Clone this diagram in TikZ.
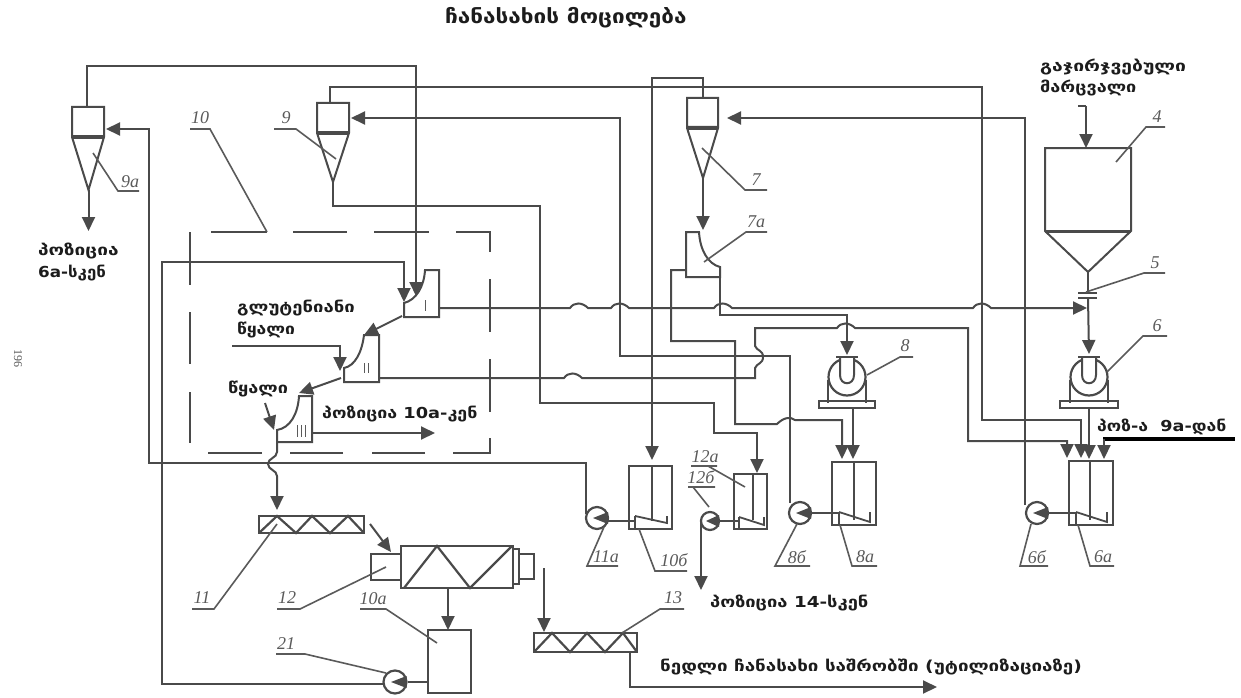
\documentclass[tikz,border=0pt]{standalone}
\usepackage{graphicx}
\usepackage{fontspec}
\setmainfont{DejaVu Sans}
\newfontfamily\labfont{Liberation Serif}
\usetikzlibrary{arrows.meta}
\definecolor{ln}{HTML}{4A4A4A}
\definecolor{lb}{HTML}{5A5A5A}
\definecolor{tx}{HTML}{1C1C1C}
\tikzset{
  pipe/.style={draw=ln,line width=2pt,line join=miter},
  arr/.style={pipe,-{Triangle[length=14pt,width=13pt]}},
  lead/.style={draw=lb,line width=1.6pt},
  lab/.style={text=lb,font=\labfont\itshape\fontsize{18}{18}\selectfont,inner sep=0pt},
  geo/.style={text=tx,font=\bfseries\fontsize{14}{14}\selectfont,inner sep=0pt,anchor=west},
  dash box/.style={draw=ln,line width=2pt},
  pumpc/.style={circle,draw=ln,line width=2.2pt,fill=white,inner sep=0pt,minimum size=#1},
  zig/.style={draw=ln,line width=2.2pt},
  tickmark/.style={draw=lb,line width=1pt}
}
\newcommand\gt[2]{\scalebox{#1}[1.08]{#2}}
\newcommand\hb[2]{-- ({#1-9},#2) .. controls ({#1-5},{#2-6}) and ({#1+3},{#2-6}) .. ({#1+9},#2)}
\newcommand\ppump[4]{% name, x, y, diameter
  \node[pumpc=#4pt] (#1) at (#2,#3) {};
  \fill[ln] ({#2-4},#3) -- ({#2+#4/2},{#3-6}) -- ({#2+#4/2},{#3+6}) -- cycle;}
\newcommand\gpump[3]{% name, x, base half-width
  \draw[pipe] ({#2-19},380) -- ({#2-19},403) ({#2+19},380) -- ({#2+19},403);
  \node[pumpc=37pt] (#1) at (#2,377) {};
  \draw[pipe,fill=white] ({#2-7},357) -- ({#2-7},375) .. controls ({#2-7},386) and ({#2+7},386) .. ({#2+7},375) -- ({#2+7},357);
  \draw[pipe,line width=2.4pt] ({#2-11},357) -- ({#2+11},357);
  \draw[pipe] ({#2-#3},401) rectangle ({#2+#3},408);}
\newcommand\flap[5]{% xl, xr, ytop, ybot (flap ends), ybox bottom
  \draw[pipe,line width=1.8pt] (#1,#3) -- (#2,#4) -- (#2,#3) (#1,#3) -- (#1,#5);}
\begin{document}
\begin{tikzpicture}[x=1pt,y=-1pt]
\useasboundingbox (0,0) rectangle (1241,698);
\fill[white] (0,0) rectangle (1241,698);

% named connector end points
\coordinate (t9a) at (106,129);
\coordinate (t9) at (351,118);
\coordinate (t7) at (727,118);
\coordinate (tI1) at (404,302);
\coordinate (tI2) at (416,296);
\coordinate (tII) at (340,371);
\coordinate (tIII) at (274,430);
\coordinate (t11) at (277,510);
\coordinate (t6p) at (1089,354);
\coordinate (t8p) at (847,355);

% cyclones
\draw[pipe] (72,107) rectangle (104,136) (72,137) -- (88.5,190) -- (104,137);
\draw[pipe,line width=3pt] (72,137) -- (104,137);
\draw[pipe] (317,103) rectangle (349,132) (317,133) -- (333,182) -- (349,133);
\draw[pipe,line width=3pt] (317,133) -- (349,133);
\draw[pipe] (687,98) rectangle (718,127) (687,128) -- (703,178) -- (718,128);
\draw[pipe,line width=3pt] (687,128) -- (718,128);

% hopper
\draw[pipe] (1045,231) -- (1045,148) -- (1131,148) -- (1131,231) -- (1088,272) -- cycle;
\draw[pipe,line width=3pt] (1045,231) -- (1131,231);
\draw[pipe] (1078,106) -- (1086,106);
\draw[arr] (1086,106) -- (1086,148);
\draw[pipe] (1088,272) -- (1088,293);
\draw[arr] (1088,298) -- (t6p);
\draw[pipe] (1078,293) -- (1097,293) (1078,298) -- (1097,298);

% dashed frame 10
\draw[dash box] (211,232) -- (267,232) (293,232) -- (347,232) (374,232) -- (429,232)
  (456,232) -- (490,232) -- (490,252) (490,279) -- (490,332) (490,359) -- (490,412)
  (490,438) -- (490,453) -- (453,453) (425,453) -- (372,453) (343,453) -- (290,453) (262,453) -- (208,453)
  (190,232) -- (190,285) (190,312) -- (190,364) (190,392) -- (190,443);

% pipes
\draw[arr] (88.5,190) -- (88.5,231);
\draw[arr] (87,107) -- (87,66) -- (416,66) -- (tI2);
\draw[arr] (384,684) -- (162,684) -- (162,262) -- (404,262) -- (tI1);
\draw[arr] (586,514) -- (586,463) -- (149,463) -- (149,129) -- (t9a);
\draw[arr] (330,103) -- (330,87) -- (982,87) -- (982,420) -- (1081,420) -- (1081,458);
\draw[arr] (333,182) -- (333,206) -- (540,206) -- (540,403) -- (714,403) -- (714,433) -- (757,433) -- (757,473);
\draw[arr] (790,503) -- (790,356) -- (620,356) -- (620,118) -- (t9);
\draw[arr] (439,308) \hb{579}{308} \hb{620}{308} \hb{723}{308} \hb{982}{308} -- (1087,308);
\draw[arr] (379,378) \hb{573}{378} -- (755,378) -- (755,368) .. controls (757,363) and (763,364) .. (763,357)
  .. controls (763,350) and (757,351) .. (755,346) -- (755,328) \hb{846}{328} -- (968,328) -- (968,441) -- (1067,441) -- (1067,458);
\draw[arr] (703,98) -- (703,78) -- (652,78) -- (652,460);
\draw[arr] (1025,505) -- (1025,118) -- (t7);
\draw[arr] (703,178) -- (703,230);
\draw[arr] (686,270) -- (671,270) -- (671,341) -- (735,341) -- (735,424) -- (777,424)
  .. controls (783,418) and (790,416) .. (795,420) -- (842,420) -- (842,459);
\draw[arr] (720,277) -- (720,315) -- (847,315) -- (t8p);
\draw[arr] (853,408) -- (853,459);
\draw[arr] (1089,408) -- (1089,459);
\draw[arr] (232,346) -- (340,346) -- (tII);
\draw[arr] (265,403) -- (tIII);
\draw[arr] (402,316) -- (364,335);
\draw[arr] (341,378) -- (299,393);
\draw[arr] (312,433) -- (435,433);
\draw[arr] (277,442) -- (277,452) .. controls (277,458) and (268,458) .. (268,464)
  .. controls (268,470) and (277,470) .. (277,476) -- (t11);
\draw[arr] (370,524) -- (391,552);
\draw[arr] (448,588) -- (448,630);
\draw[arr] (544,568) -- (544,632);
\draw[arr] (630,652) -- (630,687) -- (937,687);
\draw[arr] (701,521) -- (701,590);
\draw[draw=black,line width=4pt] (1103,439) -- (1235,439);
\draw[arr] (1104,439) -- (1104,459);

% chambers
\draw[pipe,fill=white] (425,270) -- (439,270) -- (439,317) -- (404,317) -- (404,303) .. controls (416,300) and (424,287) .. (425,270) -- cycle;
\draw[pipe,fill=white] (364,335) -- (379,335) -- (379,382) -- (344,382) -- (344,368) .. controls (355,366) and (362,352) .. (364,335) -- cycle;
\draw[pipe,fill=white] (299,396) -- (312,396) -- (312,442) -- (277,442) -- (277,430) .. controls (290,428) and (298,414) .. (299,396) -- cycle;
\draw[tickmark] (425,300) -- (425,311);
\draw[tickmark] (364,363) -- (364,373) (368,363) -- (368,373);
\draw[tickmark] (297,425) -- (297,437) (301,425) -- (301,437) (305,425) -- (305,437);
\draw[pipe,fill=white] (686,232) -- (699,232) .. controls (700,250) and (708,264) .. (720,267) -- (720,277) -- (686,277) -- cycle;
\draw[pipe] (720,277) -- (720,300);

% gear pumps
\gpump{p6}{1089}{29}
\gpump{p8}{847}{28}

% tanks
\draw[pipe] (1069,461) rectangle (1113,525) (1090,461) -- (1090,520);
\flap{1076}{1107}{512}{522}{525}
\draw[pipe] (832,462) rectangle (876,525) (854,462) -- (854,520);
\flap{839}{870}{512}{522}{525}
\draw[pipe] (629,466) rectangle (672,529) (652,466) -- (652,521);
\flap{635}{667}{516}{523}{529}
\draw[pipe] (734,474) rectangle (767,529) (753,474) -- (753,520);
\flap{739}{764}{517}{525}{529}

% centrifugal pumps
\ppump{p11a}{597}{518}{22}
\ppump{p6b}{1037}{513}{22}
\ppump{p8b}{800}{513}{22}
\ppump{p12b}{710}{521}{18}
\ppump{p21}{395}{682}{23}
\draw[pipe] (p11a) ++(11,3) -- (635,521);
\draw[pipe] (p6b.east) -- (1076,513);
\draw[pipe] (p8b.east) -- (839,513);
\draw[pipe] (p12b.east) -- (739,521);
\draw[pipe] (p21.east) -- (428,682);

% screws and machine
\draw[zig] (259,516) rectangle (364,533);
\draw[zig] (259,533) -- (277,516) -- (296,533) -- (312,516) -- (330,533) -- (348,516) -- (364,533);
\draw[zig] (534,633) rectangle (637,652);
\draw[zig] (534,652) -- (552,633) -- (570,652) -- (587,633) -- (605,652) -- (623,633) -- (637,652);
\draw[zig] (371,554) rectangle (401,580);
\draw[zig] (401,546) rectangle (513,588);
\draw[zig] (404,588) -- (437,546) -- (470,588) -- (512,546);
\draw[zig] (513,549) rectangle (519,584);
\draw[zig] (519,554) rectangle (534,579);
\draw[zig] (428,630) rectangle (471,693);

% leaders
\draw[lead] (139,191) -- (118,191) -- (93,153);
\draw[lead] (190,129) -- (210,129) -- (267,232);
\draw[lead] (274,129) -- (296,129) -- (336,159);
\draw[lead] (767,190) -- (745,190) -- (702,148);
\draw[lead] (767,232) -- (746,232) -- (704,262);
\draw[lead] (1165,127) -- (1146,127) -- (1116,162);
\draw[lead] (1165,273) -- (1144,273) -- (1086,292);
\draw[lead] (1167,336) -- (1143,336) -- (1107,372);
\draw[lead] (913,357) -- (900,357) -- (867,375);
\draw[lead] (687,571) -- (655,571) -- (639,529);
\draw[lead] (618,566) -- (587,566) -- (604,527);
\draw[lead] (810,566) -- (775,566) -- (797,524);
\draw[lead] (877,566) -- (852,566) -- (840,525);
\draw[lead] (1048,566) -- (1020,566) -- (1031,524);
\draw[lead] (1114,566) -- (1090,566) -- (1078,525);
\draw[lead] (717,466) -- (691,466) (708,466) -- (745,487);
\draw[lead] (715,487) -- (688,487) (693,487) -- (709,507);
\draw[lead] (192,609) -- (214,609) -- (277,524);
\draw[lead] (277,609) -- (300,609) -- (386,567);
\draw[lead] (360,609) -- (386,609) -- (437,643);
\draw[lead] (276,654) -- (305,654) -- (386,673);
\draw[lead] (684,609) -- (660,609) -- (622,633);

% numeric labels
\node[lab] (n9a) at (130,182) {9a};
\node[lab] (n10) at (200,118) {10};
\node[lab] (n9) at (286,118) {9};
\node[lab] (n7) at (756,180) {7};
\node[lab] (n7a) at (756,222) {7a};
\node[lab] (n4) at (1157,117) {4};
\node[lab] (n5) at (1155,263) {5};
\node[lab] (n6) at (1157,326) {6};
\node[lab] (n8) at (905,346) {8};
\node[lab] (n10b) at (674,560) {10б};
\node[lab] (n11a) at (606,557) {11a};
\node[lab] (n12a) at (705,457) {12a};
\node[lab] (n12b) at (701,477) {12б};
\node[lab] (n8b) at (797,557) {8б};
\node[lab] (n8a) at (865,557) {8a};
\node[lab] (n6b) at (1037,557) {6б};
\node[lab] (n6a) at (1103,557) {6a};
\node[lab] (n11) at (202,598) {11};
\node[lab] (n12) at (287,598) {12};
\node[lab] (n10a) at (373,599) {10a};
\node[lab] (n21) at (286,644) {21};
\node[lab] (n13) at (673,598) {13};
\node[text=lb,rotate=-90,font=\labfont\fontsize{12}{12}\selectfont,inner sep=0pt] (page) at (18,358) {196};

% Georgian texts
\node[geo,font=\bfseries\fontsize{18}{18}\selectfont] (title) at (445,18) {\gt{1.25}{ჩანასახის მოცილება}};
\node[geo] (g1) at (1040,67) {\gt{1.38}{გაჯირჯვებული}};
\node[geo] (g2) at (1040,88) {\gt{1.29}{მარცვალი}};
\node[geo] (g3) at (38,251) {\gt{1.36}{პოზიცია}};
\node[geo] (g4) at (38,273) {\gt{1.2}{6a-სკენ}};
\node[geo] (g5) at (237,308) {\gt{1.32}{გლუტენიანი}};
\node[geo] (g6) at (237,330) {\gt{1.25}{წყალი}};
\node[geo] (g7) at (228,389) {\gt{1.29}{წყალი}};
\node[geo] (g8) at (322,414) {\gt{1.27}{პოზიცია 10a-კენ}};
\node[geo] (g9) at (1097,427) {\gt{1.26}{პოზ-ა\ \ 9a-დან}};
\node[geo] (g10) at (710,603) {\gt{1.31}{პოზიცია 14-სკენ}};
\node[geo] (g11) at (660,667) {\gt{1.34}{ნედლი ჩანასახი საშრობში (უტილიზაციაზე)}};
\end{tikzpicture}
\end{document}
